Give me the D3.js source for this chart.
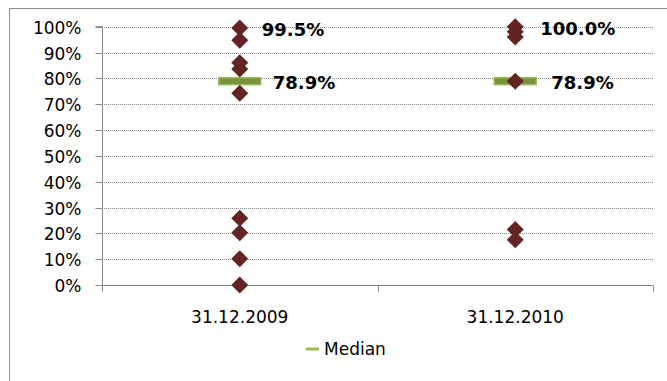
<!DOCTYPE html>
<html>
<head>
<meta charset="utf-8">
<script src="https://cdn.jsdelivr.net/npm/d3@7"></script>
<style>
  html, body { margin: 0; padding: 0; background: #fff; }
  svg { display: block; font-family: "DejaVu Sans", Verdana, sans-serif; }
</style>
</head>
<body>
<script>
// ---- data ----
const categories = ["31.12.2009", "31.12.2010"];
const values2009 = [99.5, 94.8, 86.0, 83.6, 74.2, 25.8, 20.2, 10.2, 0.0];
const values2010 = [100.0, 98.0, 96.0, 78.9, 21.5, 17.5];
const medians = [78.9, 78.9];
const maxLabels = [99.5, 100.0];
const yTicks = [0, 10, 20, 30, 40, 50, 60, 70, 80, 90, 100];
const legendLabel = "Median";

const W = 667, H = 381;
const svg = d3.select("body").append("svg").attr("width", W).attr("height", H);

// outer frame (extends beyond right/bottom)
svg.append("rect").attr("x", 9.5).attr("y", 8.5).attr("width", 720).attr("height", 420)
  .attr("fill", "none").attr("stroke", "#8c8c8c").attr("stroke-width", 1);

const plot = { left: 102, right: 653, top: 26.7, bottom: 285 };

const x = d3.scaleBand().domain(categories).range([plot.left, plot.right]).padding(0);
const y = d3.scaleLinear().domain([0, 100]).range([plot.bottom, plot.top]);

// gridlines
svg.append("g").selectAll("line").data(yTicks.filter(d => d > 0)).join("line")
  .attr("x1", plot.left).attr("x2", plot.right)
  .attr("y1", d => Math.round(y(d)) + 0.5).attr("y2", d => Math.round(y(d)) + 0.5)
  .attr("stroke", "#8a8a8a").attr("stroke-width", 1).attr("stroke-dasharray", "1,1");

// y axis
const yAxis = d3.axisLeft(y).tickValues(yTicks).tickFormat(d => d + "%").tickSize(7).tickPadding(14);
const gy = svg.append("g").attr("transform", `translate(${plot.left + 0.5},0)`).call(yAxis);
gy.select(".domain").attr("stroke", "#868686").attr("d", `M-7,${y(100)}H0V${y(0)}`);
gy.selectAll(".tick line").attr("stroke", "#868686");
gy.selectAll(".tick").attr("transform", d => `translate(0,${Math.round(y(d)) + 0.5})`);
gy.selectAll(".tick text").attr("font-size", 17).attr("font-family", "DejaVu Sans, Verdana, sans-serif")
  .attr("fill", "#000").attr("dy", "0.36em");

// x axis
const gx = svg.append("g").attr("transform", `translate(0,${Math.round(plot.bottom) + 0.5})`);
gx.append("line").attr("x1", plot.left).attr("x2", plot.right).attr("y1", 0).attr("y2", 0)
  .attr("stroke", "#868686");
const boundaries = [plot.left, ...categories.map(c => x(c) + x.bandwidth())];
gx.selectAll("line.tk").data(boundaries).join("line").attr("class", "tk")
  .attr("x1", d => Math.round(d) + 0.5).attr("x2", d => Math.round(d) + 0.5)
  .attr("y1", 0).attr("y2", 6).attr("stroke", "#868686");
gx.selectAll("text").data(categories).join("text")
  .attr("x", d => x(d) + x.bandwidth() / 2).attr("y", 37)
  .attr("text-anchor", "middle").attr("font-size", 17).attr("fill", "#000").text(d => d);

const cx = c => x(c) + x.bandwidth() / 2;

// median bars
svg.append("g").selectAll("rect").data(medians).join("rect")
  .attr("x", (d, i) => cx(categories[i]) - 21).attr("y", d => y(d) - 3.5)
  .attr("width", 42).attr("height", 7)
  .attr("fill", "#77933C").attr("stroke", "#9BBB59").attr("stroke-width", 1.5);

// diamonds
const pts = [];
values2009.forEach(v => pts.push({ c: categories[0], v }));
values2010.forEach(v => pts.push({ c: categories[1], v }));
const diamond = "M0,-8.5L8.5,0L0,8.5L-8.5,0Z";
svg.append("g").selectAll("path").data(pts).join("path")
  .attr("d", diamond)
  .attr("transform", d => `translate(${cx(d.c)},${y(d.v)})`)
  .attr("fill", "#632523");

// labels
svg.append("g").selectAll("text").data(maxLabels).join("text")
  .attr("x", (d, i) => cx(categories[i]) + 22 + i * 3)
  .attr("y", d => y(d) + 1.5).attr("dy", "0.36em")
  .attr("font-size", 18).attr("font-weight", "bold").attr("fill", "#000")
  .text(d => d.toFixed(1) + "%");
svg.append("g").selectAll("text").data(medians).join("text")
  .attr("x", (d, i) => cx(categories[i]) + 33 + i * 3)
  .attr("y", d => y(d) + 1.5).attr("dy", "0.36em")
  .attr("font-size", 18).attr("font-weight", "bold").attr("fill", "#000")
  .text(d => d.toFixed(1) + "%");

// legend
const lg = svg.append("g").attr("transform", "translate(306,349)");
lg.append("line").attr("x1", 0).attr("x2", 13).attr("y1", 0).attr("y2", 0)
  .attr("stroke", "#9BBB59").attr("stroke-width", 3);
lg.append("text").attr("x", 18).attr("y", 0).attr("dy", "0.36em")
  .attr("font-size", 17).attr("fill", "#000").text(legendLabel);
</script>
</body>
</html>
